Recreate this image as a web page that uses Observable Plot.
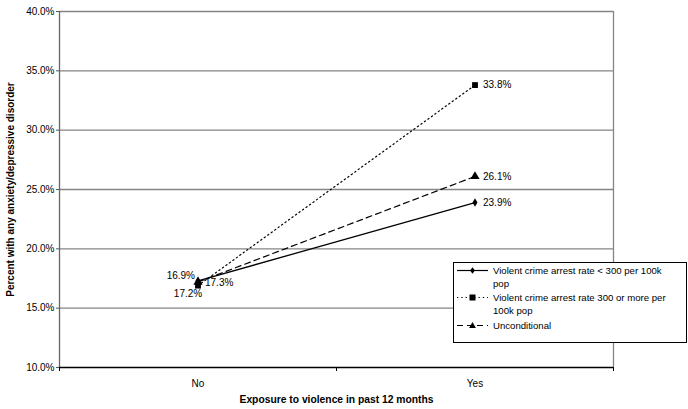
<!DOCTYPE html>
<html>
<head>
<meta charset="utf-8">
<script src="https://cdn.jsdelivr.net/npm/d3@7"></script>
<script src="https://cdn.jsdelivr.net/npm/@observablehq/plot@0.6"></script>
<style>
  body { margin: 0; background: #fff; }
  #wrap { position: relative; width: 688px; height: 409px; font-family: Arial, "Liberation Sans", sans-serif; }
  #legend { position: absolute; left: 453px; top: 262px; width: 232px; height: 79px; border: 1px solid #000; background: #fff; font-size: 9.6px; line-height: 13.4px; color: #000; }
  .row { position: absolute; left: 0; display: flex; align-items: flex-start; }
  .row svg { flex: none; margin-right: 2px; }
</style>
</head>
<body>
<div id="wrap"></div>
<script>
const categories = ["No", "Yes"];
const seriesNames = [
  "Violent crime arrest rate < 300 per 100k pop",
  "Violent crime arrest rate 300 or more per 100k pop",
  "Unconditional"
];
const lowCrimeValues = [17.3, 23.9];
const highCrimeValues = [16.9, 33.8];
const unconditionalValues = [17.2, 26.1];
const yTicks = [10, 15, 20, 25, 30, 35, 40];
const legendLines = [
  ["Violent crime arrest rate < 300 per 100k", "pop"],
  ["Violent crime arrest rate 300 or more per", "100k pop"],
  ["Unconditional"]
];

const symbols = ["diamond", "square", "triangle"];
const dashes = [null, "1.3,3", "6,4"];
const allValues = [lowCrimeValues, highCrimeValues, unconditionalValues];

const data = [];
allValues.forEach((vals, s) => vals.forEach((v, i) => data.push({
  series: seriesNames[s], s, cat: categories[i], x: i + 0.5, y: v
})));

const font = "Arial, 'Liberation Sans', sans-serif";

const seriesMarks = [];
allValues.forEach((vals, s) => {
  const d = data.filter(p => p.s === s);
  seriesMarks.push(Plot.line(d, {x: "x", y: "y", stroke: "#000", strokeWidth: s === 0 ? 1.3 : 1.2, strokeDasharray: dashes[s]}));
});
symbols.forEach((sym, s) => {
  const d = data.filter(p => p.s === s);
  seriesMarks.push(Plot.dot(d, {x: "x", y: "y", symbol: () => sym, fill: "#000", stroke: "none", r: s === 0 ? 2.6 : (s === 1 ? 3.3 : 3.4)}));
});

const fmt = v => v.toFixed(1) + "%";
const yes = data.filter(d => d.cat === "Yes");
const noLow = data.filter(d => d.cat === "No" && d.s === 0);
const noHigh = data.filter(d => d.cat === "No" && d.s === 1);
const noUnc = data.filter(d => d.cat === "No" && d.s === 2);

const chart = Plot.plot({
  width: 688,
  height: 409,
  marginLeft: 59,
  marginRight: 75,
  marginTop: 11,
  marginBottom: 42,
  style: {fontFamily: font, fontSize: "10px", color: "#000", background: "#fff"},
  x: {type: "linear", domain: [0, 2], axis: null},
  y: {domain: [10, 40], axis: null},
  marks: [
    Plot.ruleY(yTicks.filter(t => t > 10), {stroke: "#858585", strokeWidth: 1.4}),
    Plot.ruleX([2], {stroke: "#858585", strokeWidth: 1.3}),
    Plot.ruleX([0], {stroke: "#666", strokeWidth: 1.3}),
    Plot.axisY({ticks: yTicks, tickSize: 3, tickPadding: 2, tickFormat: fmt, stroke: "#555", fill: "#000", fontSize: 10, label: null}),
    Plot.axisX({ticks: [0, 1, 2], tickSize: 4, tickFormat: () => "", stroke: "#000", label: null}),
    Plot.ruleY([10], {stroke: "#000", strokeWidth: 1.3}),
    Plot.text(categories, {x: (d, i) => i + 0.5, y: () => 10, dy: 16, fontSize: 10, fill: "#000"}),
    ...seriesMarks,
    Plot.text(yes, {x: "x", y: "y", text: d => fmt(d.y), textAnchor: "start", dx: 8, fontSize: 10, fill: "#000"}),
    Plot.text(noLow, {x: "x", y: "y", text: d => fmt(d.y), textAnchor: "start", dx: 7, dy: 2, fontSize: 10, fill: "#000"}),
    Plot.text(noHigh, {x: "x", y: "y", text: d => fmt(d.y), textAnchor: "end", dx: -3, dy: -10, fontSize: 10, fill: "#000"}),
    Plot.text(noUnc, {x: "x", y: "y", text: d => fmt(d.y), textAnchor: "middle", dx: -10, dy: 12, fontSize: 10, fill: "#000"}),
    Plot.text(["Percent with any anxiety/depressive disorder"], {frameAnchor: "left", textAnchor: "middle", rotate: -90, dx: -49, fontWeight: "bold", fontSize: 10, fill: "#000"}),
    Plot.text(["Exposure to violence in past 12 months"], {frameAnchor: "bottom", dy: 35, fontWeight: "bold", fontSize: 10.3, fill: "#000"})
  ]
});

const wrap = document.getElementById("wrap");
wrap.appendChild(chart);

// legend
const legend = document.createElement("div");
legend.id = "legend";
const rowTops = [1, 28, 56];
const symPaths = {
  diamond: "M0,-3.2L2.4,0L0,3.2L-2.4,0Z",
  square: "M-3,-3H3V3H-3Z",
  triangle: "M0,-3.6L3.4,2.4H-3.4Z"
};
seriesNames.forEach((name, s) => {
  const row = document.createElement("div");
  row.className = "row";
  row.style.top = rowTops[s] + "px";
  const svgNS = "http://www.w3.org/2000/svg";
  const sv = document.createElementNS(svgNS, "svg");
  sv.setAttribute("width", 37);
  sv.setAttribute("height", 13);
  const ln = document.createElementNS(svgNS, "line");
  ln.setAttribute("x1", 3); ln.setAttribute("x2", 34);
  ln.setAttribute("y1", 6.5); ln.setAttribute("y2", 6.5);
  ln.setAttribute("stroke", "#000");
  ln.setAttribute("stroke-width", 1.2);
  if (dashes[s]) ln.setAttribute("stroke-dasharray", dashes[s]);
  sv.appendChild(ln);
  const p = document.createElementNS(svgNS, "path");
  p.setAttribute("d", symPaths[symbols[s]]);
  p.setAttribute("transform", "translate(18.5,6.5)");
  p.setAttribute("fill", "#000");
  sv.appendChild(p);
  row.appendChild(sv);
  const t = document.createElement("div");
  t.innerHTML = legendLines[s].join("<br>");
  t.title = name;
  row.appendChild(t);
  legend.appendChild(row);
});
wrap.appendChild(legend);
</script>
</body>
</html>
